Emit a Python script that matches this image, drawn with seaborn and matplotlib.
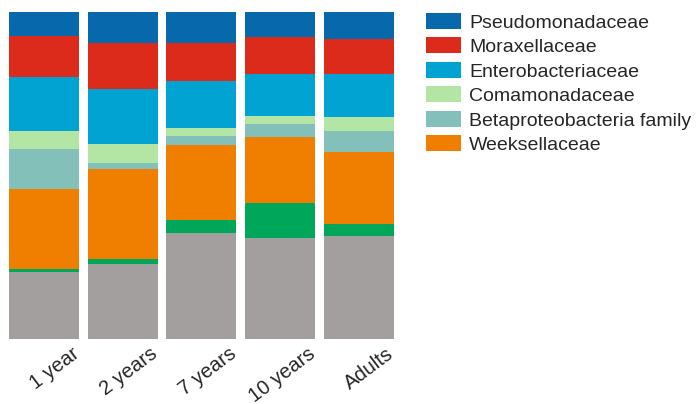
import numpy as np
import pandas as pd
import matplotlib
matplotlib.use("Agg")
import matplotlib.pyplot as plt
import matplotlib.transforms as mtransforms
from matplotlib.patches import Patch
import seaborn as sns

# relative abundance (%) per age group, bottom -> top
groups = ["1 year", "2 years", "7 years", "10 years", "Adults"]
other         = [20.5, 22.9, 32.4, 30.9, 31.5]
green_family  = [0.9, 1.5, 4.0, 10.7, 3.7]
weeksell      = [24.5, 27.5, 22.9, 20.2, 22.0]
betaproteo    = [12.2, 1.8, 2.8, 4.0, 6.4]
comamonad     = [5.5, 5.8, 2.4, 2.4, 4.3]
enterobact    = [16.5, 16.8, 14.4, 12.8, 13.1]
moraxell      = [12.6, 14.1, 11.6, 11.3, 10.7]
pseudomonad   = [7.2, 9.5, 9.5, 7.6, 8.3]

layers = [
    ("Other", other, "#a39f9e"),
    ("Other2", green_family, "#00a65a"),
    ("Weeksellaceae", weeksell, "#f07f00"),
    ("Betaproteobacteria family", betaproteo, "#82c0b9"),
    ("Comamonadaceae", comamonad, "#b3e5a4"),
    ("Enterobacteriaceae", enterobact, "#01a3d2"),
    ("Moraxellaceae", moraxell, "#dc2a1b"),
    ("Pseudomonadaceae", pseudomonad, "#0868ac"),
]
legend_names = ["Pseudomonadaceae", "Moraxellaceae", "Enterobacteriaceae",
                "Comamonadaceae", "Betaproteobacteria family", "Weeksellaceae"]

sns.set_style("white")
plt.rcParams["font.family"] = ["Liberation Sans", "DejaVu Sans"]

fig = plt.figure(figsize=(6.98, 4.04), dpi=100)
ax = fig.add_axes([0.0066, 0.161, 0.5636, 0.809])

cum = np.cumsum([np.array(v, dtype=float) for _, v, _ in layers], axis=0)
total = cum[-1]
# draw cumulative heights from the top layer down so each overlays the next
for i in range(len(layers) - 1, -1, -1):
    df = pd.DataFrame({"group": groups, "val": cum[i] / total * 100})
    sns.barplot(data=df, x="group", y="val", color=layers[i][2], saturation=1,
                width=0.89, linewidth=0, ax=ax, order=groups)

ax.set_ylim(0, 100)
ax.set_xlim(-0.5, 4.5)
ax.set_xlabel("")
ax.set_ylabel("")
ax.set_yticks([])
for s in ax.spines.values():
    s.set_visible(False)
ax.tick_params(axis="x", length=0, pad=0)
off = mtransforms.ScaledTranslation(0.33, -0.13, fig.dpi_scale_trans)
ax.set_xticks(range(len(groups)))
ax.set_xticklabels(groups, rotation=37, ha="right", va="center",
                   rotation_mode="anchor", fontsize=14.5)
for lab in ax.get_xticklabels():
    lab.set_transform(lab.get_transform() + off)

colors = {n: c for n, _, c in layers}
handles = [Patch(facecolor=colors[n], edgecolor="none", label=n) for n in legend_names]
fig.legend(handles=handles, loc="upper left", bbox_to_anchor=(0.611, 0.968),
           frameon=False, fontsize=14, handlelength=1.75, handleheight=0.88,
           labelspacing=0.3, handletextpad=0.45, borderpad=0, borderaxespad=0)

fig.savefig("out.png", dpi=100)
